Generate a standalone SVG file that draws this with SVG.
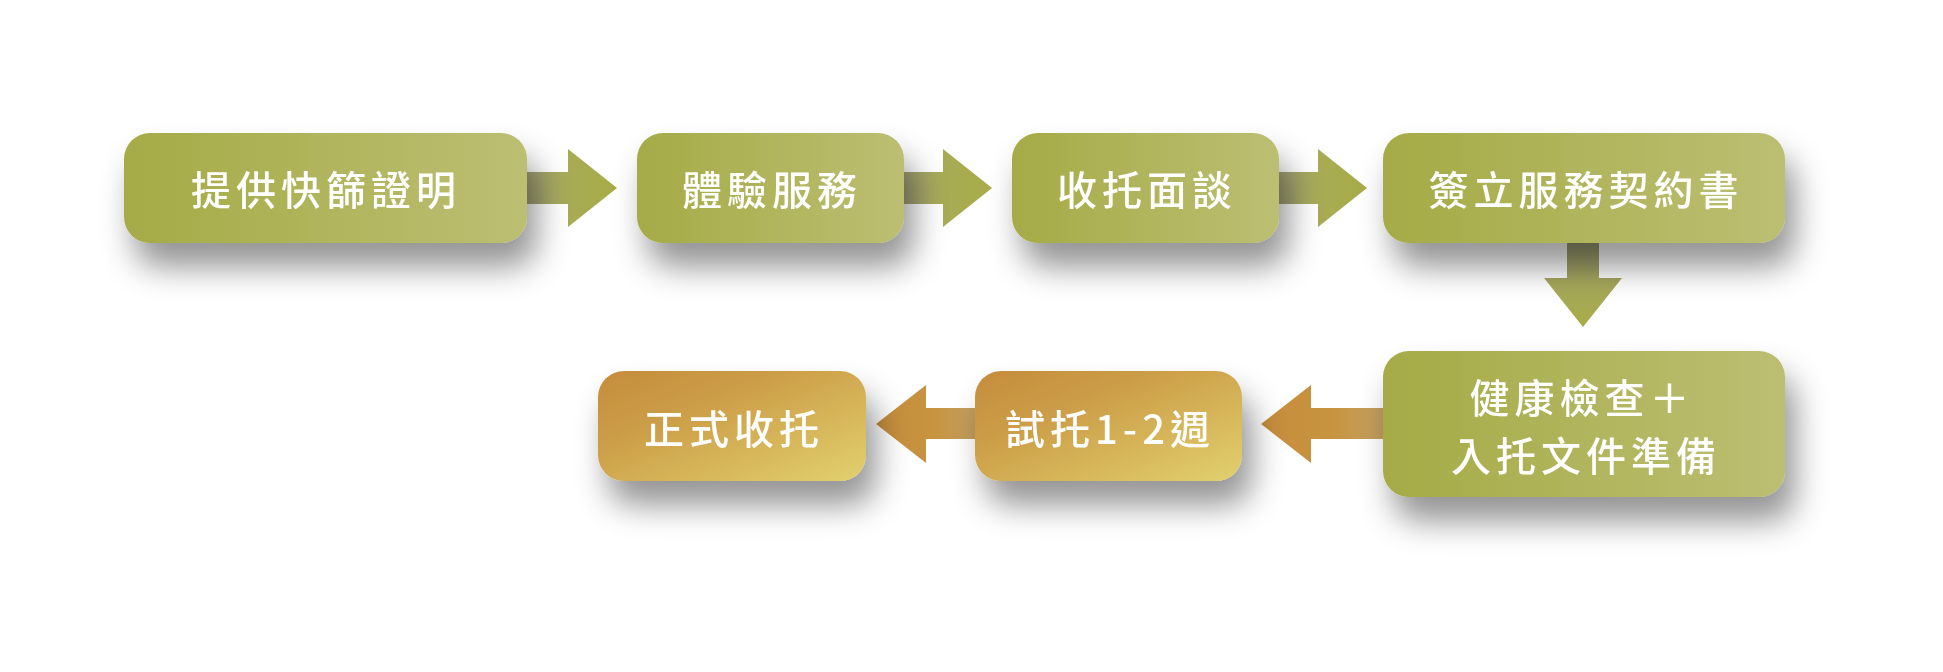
<svg xmlns="http://www.w3.org/2000/svg" width="1943" height="672" viewBox="0 0 1943 672">
<defs>
<linearGradient id="gGreen" x1="0" y1="0" x2="1" y2="0">
<stop offset="0" stop-color="#a5ab46"/><stop offset="1" stop-color="#bcbe72"/>
</linearGradient>
<linearGradient id="gGold" x1="0" y1="0" x2="1" y2="1">
<stop offset="0" stop-color="#c58c3d"/><stop offset="0.35" stop-color="#cc9e48"/><stop offset="1" stop-color="#e2d06e"/>
</linearGradient>
<linearGradient id="gArrR" x1="0" y1="0" x2="1" y2="0">
<stop offset="0" stop-color="#a3a37a"/><stop offset="0.45" stop-color="#a8ab55"/><stop offset="1" stop-color="#a7ac47"/>
</linearGradient>
<linearGradient id="gArrD" x1="0" y1="0" x2="0" y2="1">
<stop offset="0" stop-color="#9a9b74"/><stop offset="0.5" stop-color="#a6a85a"/><stop offset="1" stop-color="#a7ac47"/>
</linearGradient>
<linearGradient id="gArrL" x1="1" y1="0" x2="0" y2="0">
<stop offset="0" stop-color="#c2a062"/><stop offset="0.4" stop-color="#c8943f"/><stop offset="1" stop-color="#c58d3d"/>
</linearGradient>
<filter id="sh" x="-25%" y="-40%" width="160%" height="220%">
<feDropShadow dx="10" dy="24" stdDeviation="16" flood-color="#000" flood-opacity="0.42"/>
</filter>
</defs>
<style>
.lbl{font-family:"Noto Sans CJK TC","Noto Sans CJK SC",sans-serif;font-size:40px;font-weight:500;fill:#ffffff;letter-spacing:5px;text-anchor:middle;dominant-baseline:central}
.g{fill:url(#gGreen)}
.o{fill:url(#gGold)}
</style>
<rect width="1943" height="672" fill="#ffffff"/>
<g id="connectors">
<path d="M527 172 H568 V149 L617 188 L568 227 V204 H527 Z" fill="url(#gArrR)"/>
<path d="M904 172 H943 V149 L992 188 L943 227 V204 H904 Z" fill="url(#gArrR)"/>
<path d="M1279 172 H1318 V149 L1367 188 L1318 227 V204 H1279 Z" fill="url(#gArrR)"/>
<path d="M1567 243 V278 H1544 L1583 327 L1622 278 H1599 V243 Z" fill="url(#gArrD)"/>
<path d="M1383 408 H1311 V385 L1261 424 L1311 463 V439 H1383 Z" fill="url(#gArrL)"/>
<path d="M975 408 H926 V385 L876 424 L926 463 V439 H975 Z" fill="url(#gArrL)"/>
</g>
<g id="n1" filter="url(#sh)"><rect class="g" x="124" y="133" width="403" height="110" rx="26"/><text class="lbl" x="326" y="188">提供快篩證明</text></g>
<g id="n2" filter="url(#sh)"><rect class="g" x="637" y="133" width="267" height="110" rx="26"/><text class="lbl" x="772" y="188">體驗服務</text></g>
<g id="n3" filter="url(#sh)"><rect class="g" x="1012" y="133" width="267" height="110" rx="26"/><text class="lbl" x="1147" y="188">收托面談</text></g>
<g id="n4" filter="url(#sh)"><rect class="g" x="1383" y="133" width="402" height="110" rx="26"/><text class="lbl" x="1586" y="188">簽立服務契約書</text></g>
<g id="n5" filter="url(#sh)"><rect class="g" x="1383" y="351" width="402" height="146" rx="26"/><text class="lbl" x="1582" y="396">健康檢查＋</text><text class="lbl" x="1586" y="454">入托文件準備</text></g>
<g id="n6" filter="url(#sh)"><rect class="o" x="975" y="371" width="267" height="110" rx="26"/><text class="lbl" x="1110" y="427">試托1-2週</text></g>
<g id="n7" filter="url(#sh)"><rect class="o" x="598" y="371" width="268" height="110" rx="26"/><text class="lbl" x="734" y="427">正式收托</text></g>
</svg>
